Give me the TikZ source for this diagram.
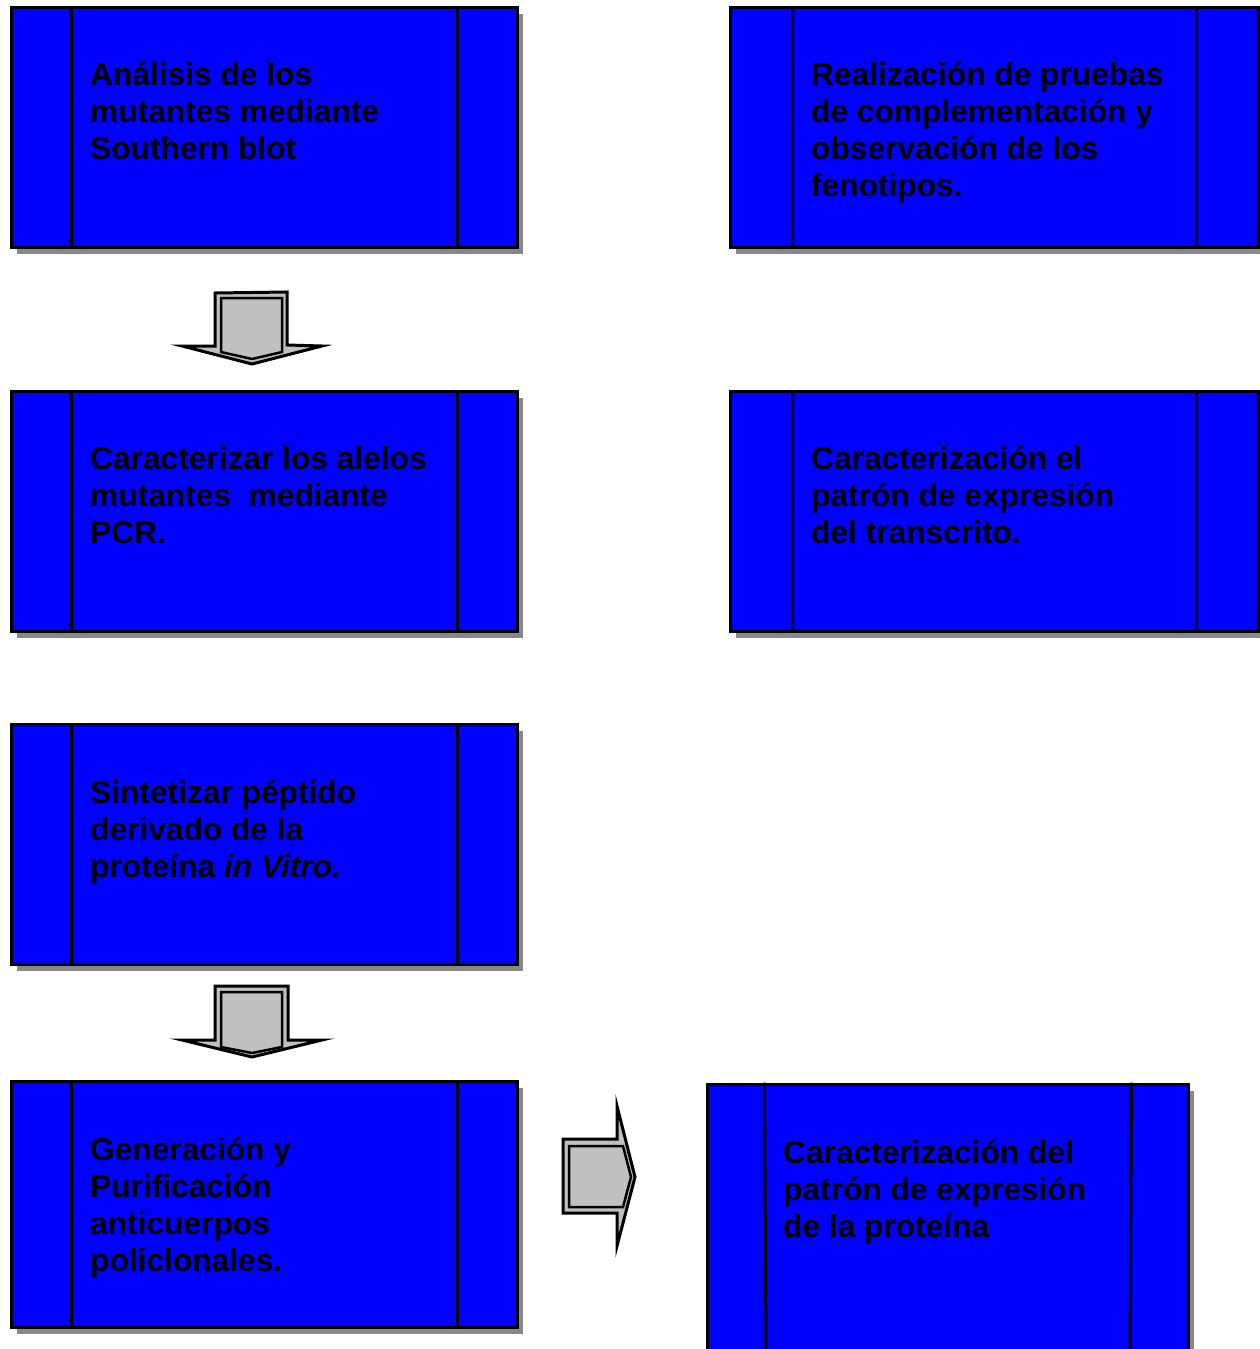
\documentclass[tikz,border=0pt]{standalone}
\usepackage{fontspec}
\setmainfont{Liberation Sans}
\usetikzlibrary{shadows}
\definecolor{boxblue}{RGB}{0,0,255}
\definecolor{arrowgray}{RGB}{192,192,192}
\definecolor{shadowgray}{RGB}{136,136,136}
\begin{document}
\begin{tikzpicture}[x=1pt,y=-1pt,
    box/.style={draw=black,line width=3pt,fill=boxblue,
      drop shadow={shadow xshift=6pt,shadow yshift=-7pt,fill=shadowgray,opacity=1}},
    txt/.style={anchor=base west,inner sep=0pt,align=left,font=\bfseries\fontsize{31.7}{37}\selectfont},
    blockarrow/.style={draw=black,line width=3pt,fill=arrowgray,line join=miter},
    inarrow/.style={draw=black,line width=2.5pt,fill=arrowgray,line join=miter}]
        \useasboundingbox (0,0) rectangle (1260,1349);

        \begin{scope}
        \clip (0,0) rectangle (1260,1349);
        \node (b1) [box,minimum width=506pt,minimum height=240pt] at (264,127) {};
        \node (b2) [box,minimum width=528pt,minimum height=240pt] at (994,127) {};
        \node (b3) [box,minimum width=506pt,minimum height=240pt] at (264,511) {};
        \node (b4) [box,minimum width=528pt,minimum height=240pt] at (994,511) {};
        \node (b5) [box,minimum width=506pt,minimum height=240pt] at (264,844) {};
        \node (b6) [box,minimum width=506pt,minimum height=246pt] at (264,1204) {};
        \node (b7) [box,minimum width=481pt,minimum height=280pt] at (947.5,1224) {};
        \end{scope}

        % side bars
        \foreach \b in {b1,b3,b5,b6} {
            \draw[line width=3pt] ([xshift=62pt]\b.north west) -- ([xshift=62pt]\b.south west);
            \draw[line width=3pt] ([xshift=-61pt]\b.north east) -- ([xshift=-61pt]\b.south east);
        }
        \foreach \b in {b2,b4} {
            \draw[line width=3pt] ([xshift=64pt]\b.north west) -- ([xshift=64pt]\b.south west);
            \draw[line width=3pt] ([xshift=-63pt]\b.north east) -- ([xshift=-63pt]\b.south east);
        }
        \draw[line width=3pt] ([xshift=59pt]b7.north west) -- (766,1349);
        \draw[line width=3pt] ([xshift=-58pt]b7.north east) -- (1130,1349);

        % texts (anchored on the last line)
        \node (t1) [txt] at (90,159) {Análisis de los\\mutantes mediante\\Southern blot};
        \node (t2) [txt] at (811,196) {Realización de pruebas\\de complementación y\\observación de los\\fenotipos.};
        \node (t3) [txt] at (90,543) {Caracterizar los alelos\\mutantes\ \ mediante\\PCR.};
        \node (t4) [txt] at (811,543) {Caracterización el\\patrón de expresión\\del transcrito.};
        \node (t5) [txt] at (90,877) {Sintetizar péptido\\derivado de la\\proteína \textit{in Vitro.}};
        \node (t6) [txt] at (90,1271) {Generación y\\Purificación\\anticuerpos\\policlonales.};
        \node (t7) [txt] at (783,1237) {Caracterización del\\patrón de expresión\\de la proteína};

        % block arrows
        \draw[blockarrow] (215,293) -- (287,292) -- (287,345) -- (322,346) -- (252,364) -- (182,346) -- (215,346) -- cycle;
        \draw[inarrow] (221,298) -- (282,298) -- (282,352) -- (252,359) -- (221,352) -- cycle;

        \draw[blockarrow] (215,986) -- (288,986) -- (288,1040) -- (322,1040) -- (252,1057) -- (182,1040) -- (215,1040) -- cycle;
        \draw[inarrow] (221,992) -- (282,992) -- (282,1047) -- (252,1053) -- (221,1047) -- cycle;

        \draw[blockarrow] (563,1139) -- (617,1139) -- (617,1106) -- (635,1177) -- (617,1246) -- (617,1213) -- (563,1213) -- cycle;
        \draw[inarrow] (569,1146) -- (623,1146) -- (631,1177) -- (623,1207) -- (569,1207) -- cycle;
\end{tikzpicture}
\end{document}
